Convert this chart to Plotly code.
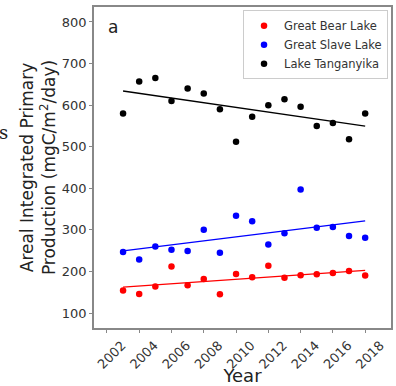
import numpy as np
import plotly.graph_objects as go

years = list(range(2003, 2019))
great_bear = [154, 146, 164, 212, 167, 182, 145, 194, 186, 214, 185, 191, 193, 196, 201, 190]
great_slave = [247, 229, 260, 252, 249, 300, 245, 334, 321, 265, 292, 397, 305, 307, 285, 281]
tanganyika = [580, 657, 665, 610, 640, 628, 590, 512, 572, 600, 614, 596, 550, 557, 518, 580]

series = [
    ("Great Bear Lake", great_bear, "#ff0000"),
    ("Great Slave Lake", great_slave, "#0000ff"),
    ("Lake Tanganyika", tanganyika, "#000000"),
]

tick_vals = list(range(2002, 2019, 2))
tick_text = [str(v) for v in tick_vals]

fig = go.Figure()
x = np.array(years, dtype=float)
for name, vals, color in series:
    fig.add_trace(go.Scatter(
        x=years, y=vals, mode="markers", name=name,
        marker=dict(color=color, size=6.5),
    ))
    k, b = np.polyfit(x, np.array(vals, dtype=float), 1)
    fig.add_trace(go.Scatter(
        x=[years[0], years[-1]], y=[k * years[0] + b, k * years[-1] + b],
        mode="lines", line=dict(color=color, width=1.3), showlegend=False,
        hoverinfo="skip",
    ))

fig.update_layout(
    width=396, height=386,
    margin=dict(l=94, r=5, t=7, b=58, autoexpand=False),
    paper_bgcolor="white", plot_bgcolor="white",
    font=dict(family="DejaVu Sans", color="#333333"),
    showlegend=True,
    legend=dict(
        x=0.99, y=0.99, xanchor="right", yanchor="top",
        bgcolor="rgba(255,255,255,0.9)", bordercolor="#cccccc", borderwidth=1,
        font=dict(size=11.5, color="#333333"),
        itemsizing="trace", tracegroupgap=0,
    ),
    xaxis=dict(
        range=[2001.2, 2019.6], tickmode="array", tickvals=tick_vals, ticktext=tick_text,
        tickangle=-45, tickfont=dict(size=13), showgrid=False, zeroline=False,
        showline=True, linecolor="#888888", linewidth=1.5, mirror=True,
        ticks="outside", ticklen=3, tickcolor="#888888", automargin=False,
        ticklabelshift=15,
        title=dict(text="Year", font=dict(size=18, color="#222222"), standoff=0),
    ),
    yaxis=dict(
        range=[64, 836], tickvals=[100, 200, 300, 400, 500, 600, 700, 800],
        tickfont=dict(size=13), showgrid=False, zeroline=False,
        showline=True, linecolor="#888888", linewidth=1.5, mirror=True,
        ticks="outside", ticklen=3, tickcolor="#888888", automargin=False,
        title=dict(text="Areal Integrated Primary<br>Production (mgC/m<sup>2</sup>/day)",
                   font=dict(size=17, color="#222222"), standoff=2),
    ),
    annotations=[
        dict(text="a", xref="paper", yref="paper", x=0.04, y=0.975,
             xanchor="left", yanchor="top", showarrow=False,
             font=dict(size=17, color="#222222")),
        dict(text="s", xref="paper", yref="paper", x=-0.325, y=0.61,
             xanchor="left", yanchor="middle", showarrow=False,
             font=dict(size=18, color="#222222", family="DejaVu Serif")),
    ],
)

fig.write_html("out.html", config={"displayModeBar": False},
               post_script="document.body.style.margin='0';")
